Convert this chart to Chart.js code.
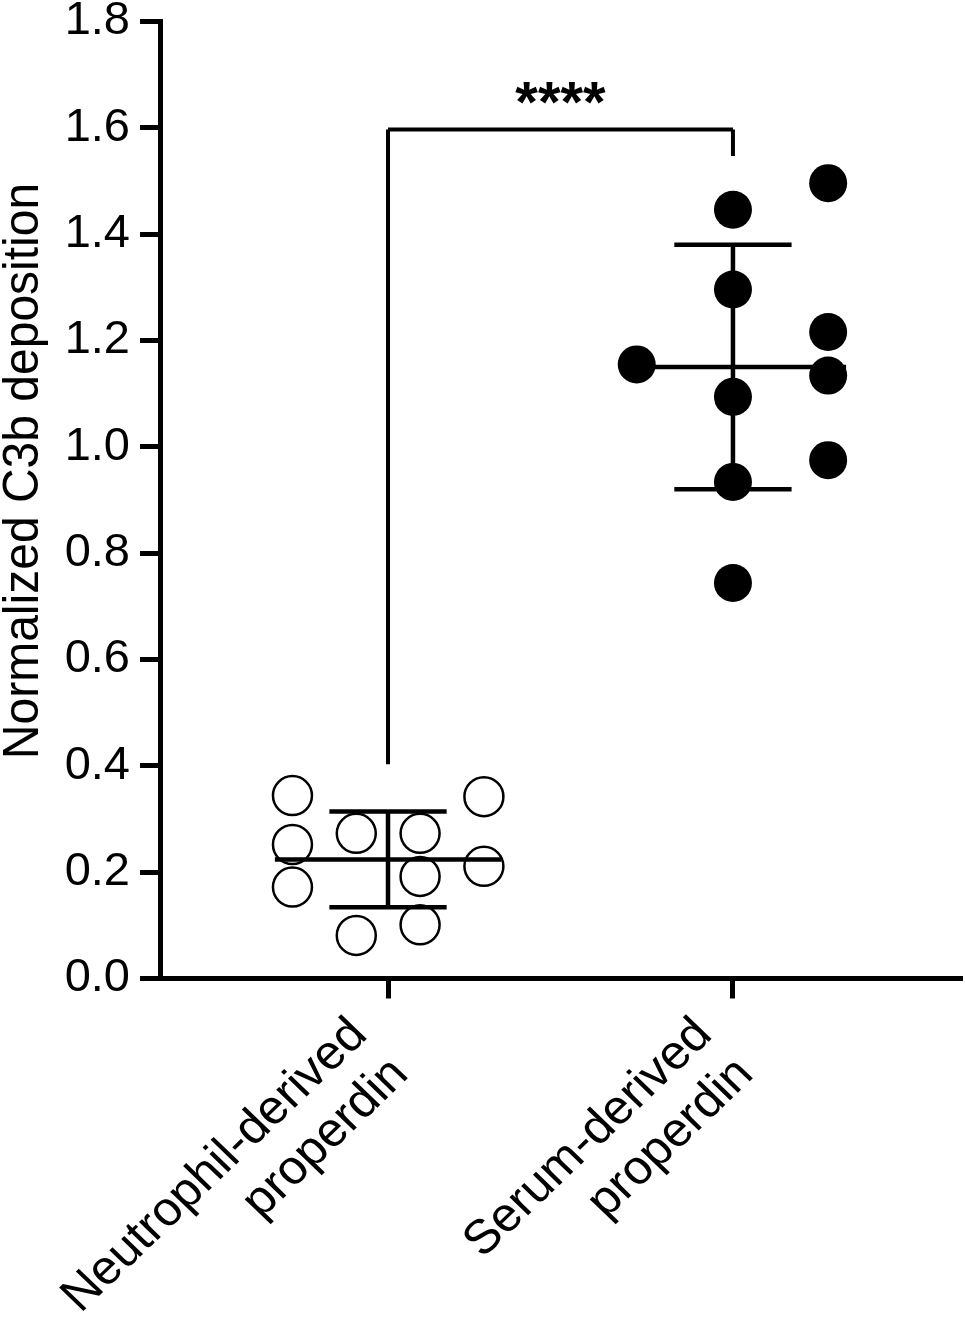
<!DOCTYPE html>
<html>
<head>
<meta charset="utf-8">
<script src="https://cdn.jsdelivr.net/npm/chart.js@4.4.1/dist/chart.umd.min.js"></script>
<style>
  html, body { margin: 0; padding: 0; background: #fff; }
  canvas { display: block; }
</style>
</head>
<body>
<canvas id="canvas_plot" width="965" height="1323"></canvas>
<script>
// group names, split over two lines like the figure
const group_labels = [['Neutrophil-derived', 'properdin'], ['Serum-derived', 'properdin']]

// single values
const neutrophil_y = [0.344, 0.252, 0.172, 0.273, 0.081, 0.273, 0.192, 0.101, 0.342, 0.211]
// column each dot sits in, relative to the group centre
const neutrophil_jitter = [-0.277, -0.277, -0.277, -0.092, -0.092, 0.093, 0.093, 0.093, 0.278, 0.278]

const serum_y = [1.446, 1.296, 1.155, 1.094, 0.934, 0.744, 1.496, 1.216, 1.134, 0.975]
const serum_jitter = [0, 0, -0.279, 0, 0, 0, 0.276, 0.276, 0.276, 0.276]

// mean +/- SD lines
const group_mean = [0.224, 1.150]
const group_sd = [0.090, 0.230]

// significance bracket: left foot, top, right foot
const bracket_y = [0.403, 1.597, 1.547]
const significance = '****'

const y_ticks = [0.0, 0.2, 0.4, 0.6, 0.8, 1.0, 1.2, 1.4, 1.6, 1.8]
const y_title = 'Normalized C3b deposition'

const FONT = '"Liberation Sans", Arial, Helvetica, sans-serif'
// the figure's lettering is a little wider than plain Arial
const STRETCH = 1.04

//one straight black segment as its own dataset
function segment(x1, y1, x2, y2, width) {
    return {
        type: 'scatter',
        showLine: true,
        data: [{x: x1, y: y1}, {x: x2, y: y2}],
        borderColor: '#000',
        borderWidth: width,
        pointRadius: 0,
        pointHoverRadius: 0,
        fill: false,
        order: 2
    }
}

var datasets = []

// dots, drawn on top of the lines
datasets.push({
    type: 'scatter',
    label: 'Neutrophil-derived properdin',
    data: neutrophil_y.map((v, i) => ({x: 1 + neutrophil_jitter[i], y: v})),
    pointRadius: 19.5,
    pointBorderWidth: 2.5,
    pointBorderColor: '#000',
    pointBackgroundColor: 'rgba(0,0,0,0)',
    order: 0
})
datasets.push({
    type: 'scatter',
    label: 'Serum-derived properdin',
    data: serum_y.map((v, i) => ({x: 2 + serum_jitter[i], y: v})),
    pointRadius: 19,
    pointBorderWidth: 0,
    pointBorderColor: '#000',
    pointBackgroundColor: '#000',
    order: 0
})

// mean and SD bars for each group
for (var g = 0; g < group_mean.length; g++) {
    var cx = g + 1
    var m = group_mean[g], sd = group_sd[g]
    datasets.push(segment(cx - 0.328, m, cx + 0.328, m, 4.5))
    datasets.push(segment(cx, m - sd, cx, m + sd, 4.5))
    datasets.push(segment(cx - 0.17, m + sd, cx + 0.17, m + sd, 4.5))
    datasets.push(segment(cx - 0.17, m - sd, cx + 0.17, m - sd, 4.5))
}

// significance bracket
datasets.push(segment(1, bracket_y[0], 1, bracket_y[1], 4))
datasets.push(segment(1, bracket_y[1], 2, bracket_y[1], 4))
datasets.push(segment(2, bracket_y[1], 2, bracket_y[2], 4))

const extraText = {
    id: 'extra_text',
    afterDraw(chart) {
        const ctx = chart.ctx
        const xs = chart.scales.x, ys = chart.scales.y
        ctx.save()
        ctx.fillStyle = '#000'

        // stars over the bracket
        ctx.font = 'bold 58px ' + FONT
        ctx.textAlign = 'center'
        ctx.textBaseline = 'alphabetic'
        ctx.fillText(significance, (xs.getPixelForValue(1) + xs.getPixelForValue(2)) / 2, ys.getPixelForValue(bracket_y[1]) - 7)

        // group names, turned 45 degrees, right ends under the tick
        ctx.font = '48px ' + FONT
        ctx.textAlign = 'right'
        xs.ticks.forEach((t, i) => {
            ctx.save()
            ctx.translate(xs.getPixelForValue(t.value) - 19, ys.bottom + 58)
            ctx.scale(STRETCH, 1)
            ctx.rotate(-Math.PI / 4)
            group_labels[i].forEach((line, k) => ctx.fillText(line, 0, k * 56))
            ctx.restore()
        })

        // y axis title
        ctx.textAlign = 'center'
        ctx.translate(38, 471)
        ctx.scale(1.05, 1)
        ctx.rotate(-Math.PI / 2)
        ctx.font = '48px ' + FONT
        ctx.fillText(y_title, 0, 0)
        ctx.restore()
    }
}

const config = {
    type: 'scatter',
    data: {datasets: datasets},
    options: {
        responsive: false,
        animation: false,
        devicePixelRatio: 1,
        layout: {autoPadding: false, padding: {top: 21.5, right: 3, bottom: 0, left: 0}},
        plugins: {
            legend: {display: false},
            tooltip: {enabled: false}
        },
        scales: {
            x: {
                type: 'linear',
                min: 0.339,
                max: 2.664,
                afterBuildTicks: (scale) => { scale.ticks = [{value: 1}, {value: 2}] },
                afterFit: (scale) => {
                    scale.height = 344.5
                    scale.paddingLeft = 0
                    scale.paddingRight = 0
                },
                border: {display: true, color: '#000', width: 5},
                grid: {
                    display: true,
                    drawOnChartArea: false,
                    drawTicks: true,
                    tickLength: 20,
                    tickWidth: 5,
                    tickColor: '#000',
                    color: '#000'
                },
                ticks: {display: false}
            },
            y: {
                type: 'linear',
                min: 0,
                max: 1.8,
                afterBuildTicks: (scale) => { scale.ticks = y_ticks.map(v => ({value: v})) },
                afterFit: (scale) => {
                    scale.width = 160
                    scale.paddingTop = 0
                    scale.paddingBottom = 0
                },
                border: {display: true, color: '#000', width: 5},
                grid: {
                    display: true,
                    drawOnChartArea: false,
                    drawTicks: true,
                    tickLength: 20,
                    tickWidth: 5,
                    tickColor: '#000',
                    color: '#000'
                },
                ticks: {
                    padding: 10,
                    color: '#000',
                    font: {family: FONT, size: 47, lineHeight: 1},
                    callback: (value) => value.toFixed(1)
                }
            }
        }
    },
    plugins: [extraText]
}

var scatterChart = new Chart(document.getElementById('canvas_plot'), config)
</script>
</body>
</html>
